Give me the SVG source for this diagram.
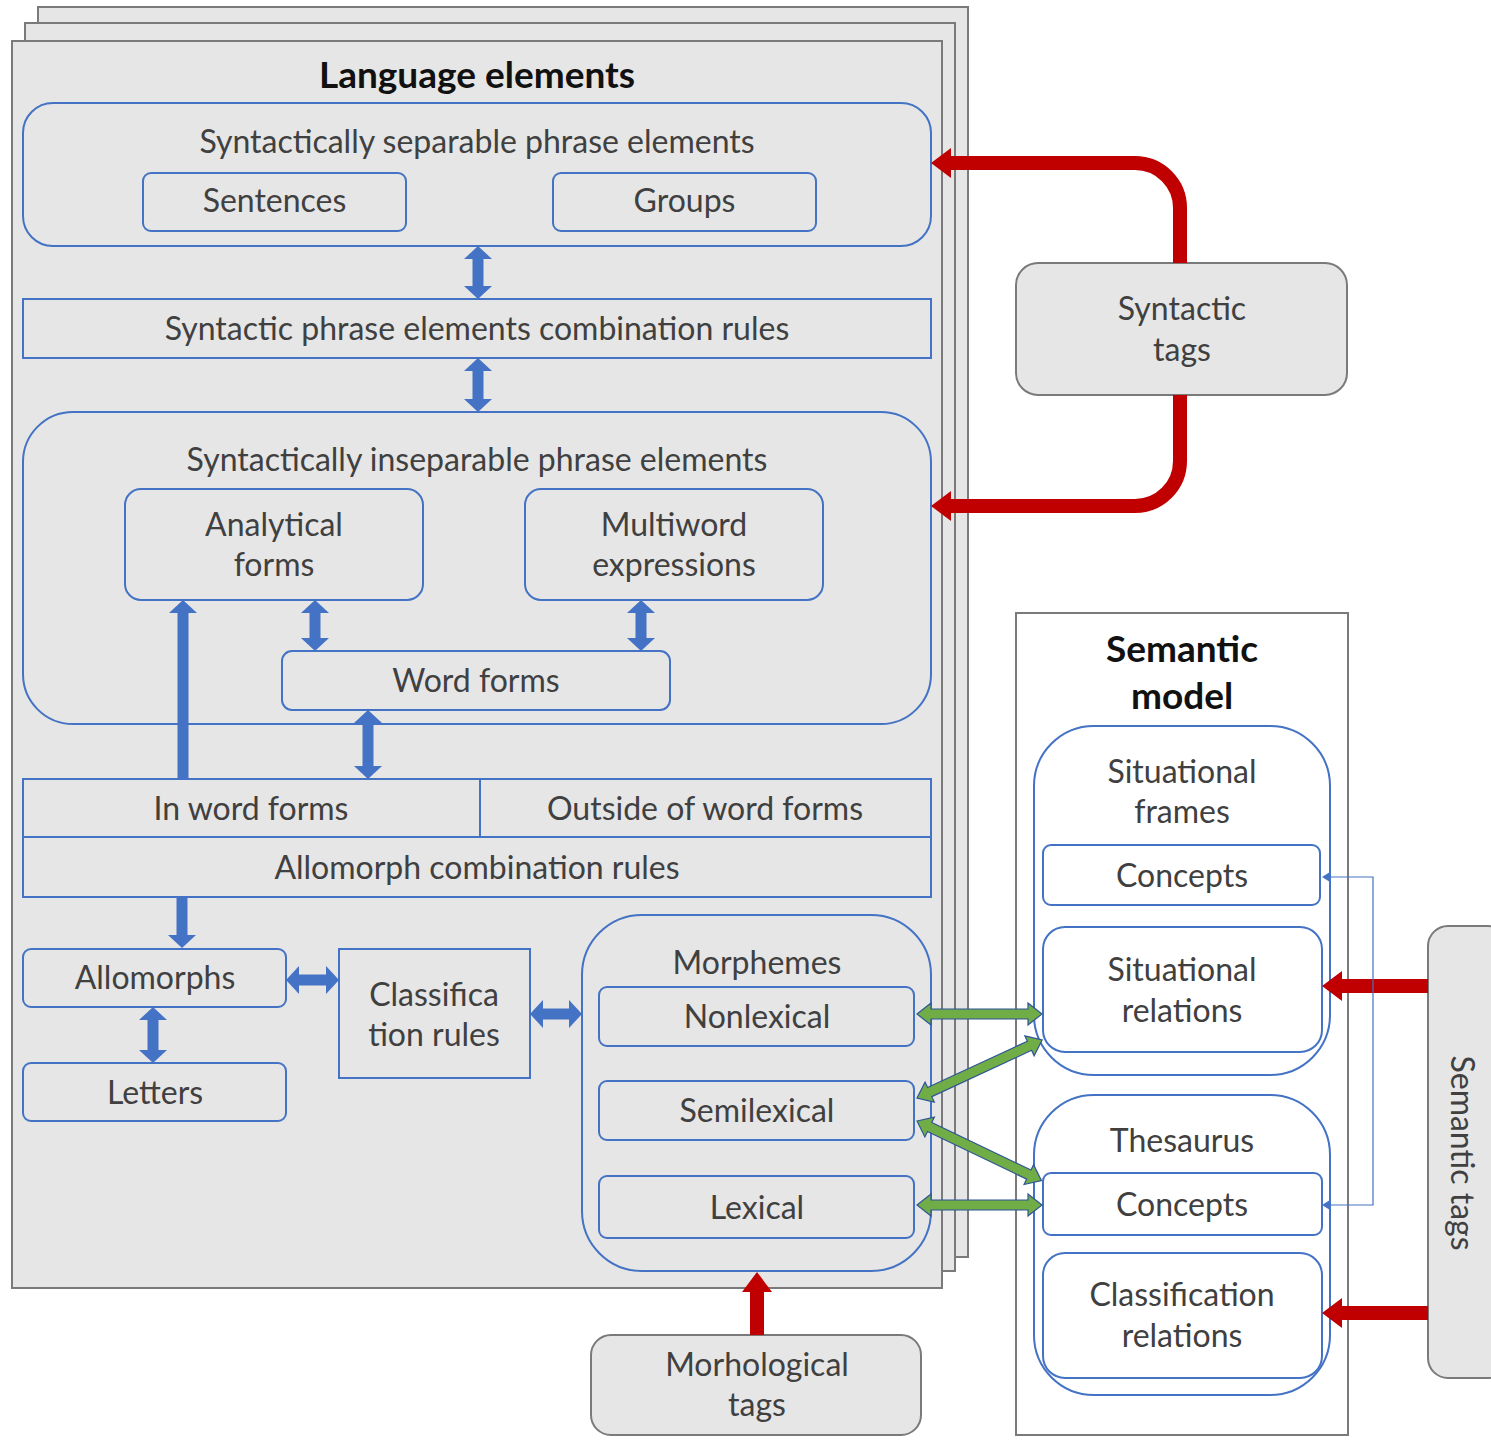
<svg xmlns="http://www.w3.org/2000/svg" width="1491" height="1440" viewBox="0 0 1491 1440">
<style>
.sheet{fill:#e6e6e6;stroke:#7a7a7a;stroke-width:2}
.bx{fill:none;stroke:#4472c4;stroke-width:2}
.wbx{fill:#fff;stroke:#4472c4;stroke-width:2}
.tag{fill:#e6e6e6;stroke:#7a7a7a;stroke-width:2}
.t{font-family:Lato,"Open Sans",sans-serif;font-size:32px;fill:#404040;text-anchor:middle}
.b{font-family:Lato,"Open Sans",sans-serif;font-size:37px;font-weight:bold;fill:#111;text-anchor:middle}
.ba{stroke:#4472c4;stroke-width:11;fill:none}
.ra{stroke:#c00000;stroke-width:14;fill:none}
.ga{fill:#70ad47;stroke:#2f5597;stroke-width:1.2}
</style>
<defs>
<marker id="mb" markerUnits="userSpaceOnUse" markerWidth="14" markerHeight="28" refX="0" refY="14" orient="auto-start-reverse" viewBox="0 0 14 28"><path d="M0,0 L13,14 L0,28 z" fill="#4472c4"/></marker>
<marker id="mr" markerUnits="userSpaceOnUse" markerWidth="21" markerHeight="30" refX="0" refY="15" orient="auto-start-reverse" viewBox="0 0 21 30"><path d="M0,0 L20,15 L0,30 z" fill="#c00000"/></marker>
<marker id="mt" markerUnits="userSpaceOnUse" markerWidth="9" markerHeight="10" refX="0" refY="5" orient="auto-start-reverse" viewBox="0 0 9 10"><path d="M0,0 L8,5 L0,10 z" fill="#4472c4"/></marker>
</defs>

<g id="language-elements">
<rect class="sheet" x="38" y="7" width="930" height="1250"/>
<rect class="sheet" x="25" y="23" width="930" height="1248"/>
<rect class="sheet" x="12" y="41" width="930" height="1247"/>
<text class="b" x="477" y="88">Language elements</text>
</g>

<g id="separable">
<rect class="bx" x="23" y="103" width="908" height="143" rx="30"/>
<text class="t" x="477" y="153">Syntactically separable phrase elements</text>
</g>
<g id="sentences"><rect class="bx" x="143" y="173" width="263" height="58" rx="8"/><text class="t" x="274.5" y="212">Sentences</text></g>
<g id="groups"><rect class="bx" x="553" y="173" width="263" height="58" rx="8"/><text class="t" x="684.5" y="212">Groups</text></g>
<g id="syntactic-rules"><rect class="bx" x="23" y="299" width="908" height="59"/><text class="t" x="477" y="340">Syntactic phrase elements combination rules</text></g>
<g id="inseparable">
<rect class="bx" x="23" y="412" width="908" height="312" rx="50"/>
<text class="t" x="477" y="471">Syntactically inseparable phrase elements</text>
</g>
<g id="analytical"><rect class="bx" x="125" y="489" width="298" height="111" rx="16"/><text class="t" x="274" y="536">Analytical</text><text class="t" x="274" y="576">forms</text></g>
<g id="multiword"><rect class="bx" x="525" y="489" width="298" height="111" rx="16"/><text class="t" x="674" y="536">Multiword</text><text class="t" x="674" y="576">expressions</text></g>
<g id="word-forms"><rect class="bx" x="282" y="651" width="388" height="59" rx="10"/><text class="t" x="476" y="692">Word forms</text></g>
<g id="allomorph-rules">
<rect class="bx" x="23" y="779" width="908" height="118"/>
<line class="bx" x1="23" y1="837" x2="931" y2="837"/>
<line class="bx" x1="480" y1="779" x2="480" y2="837"/>
<text class="t" x="251" y="820">In word forms</text>
<text class="t" x="705" y="820">Outside of word forms</text>
<text class="t" x="477" y="879">Allomorph combination rules</text>
</g>
<g id="allomorphs"><rect class="bx" x="23" y="949" width="263" height="58" rx="8"/><text class="t" x="155" y="989">Allomorphs</text></g>
<g id="letters"><rect class="bx" x="23" y="1063" width="263" height="58" rx="8"/><text class="t" x="155" y="1104">Letters</text></g>
<g id="classification-rules"><rect class="bx" x="339" y="949" width="191" height="129"/><text class="t" x="434" y="1006">Classifica</text><text class="t" x="434" y="1046">tion rules</text></g>
<g id="morphemes">
<rect class="bx" x="582" y="915" width="349" height="356" rx="60"/>
<text class="t" x="757" y="974">Morphemes</text>
</g>
<g id="nonlexical"><rect class="bx" x="599" y="987" width="315" height="59" rx="8"/><text class="t" x="757" y="1028">Nonlexical</text></g>
<g id="semilexical"><rect class="bx" x="599" y="1081" width="315" height="59" rx="8"/><text class="t" x="757" y="1122">Semilexical</text></g>
<g id="lexical"><rect class="bx" x="599" y="1176" width="315" height="62" rx="8"/><text class="t" x="757" y="1219">Lexical</text></g>

<g id="syntactic-tags"><rect class="tag" x="1016" y="263" width="331" height="132" rx="22"/><text class="t" x="1182" y="320">Syntactic</text><text class="t" x="1182" y="361">tags</text></g>

<g id="semantic-model">
<rect x="1016" y="613" width="332" height="822" fill="#fff" stroke="#7a7a7a" stroke-width="2"/>
<text class="b" x="1182" y="662">Semantic</text>
<text class="b" x="1182" y="709">model</text>
</g>
<g id="situational-frames"><rect class="wbx" x="1034" y="726" width="296" height="349" rx="60"/><text class="t" x="1182" y="783">Situational</text><text class="t" x="1182" y="823">frames</text></g>
<g id="concepts-1"><rect class="wbx" x="1043" y="845" width="277" height="60" rx="8"/><text class="t" x="1182" y="887">Concepts</text></g>
<g id="situational-relations"><rect class="wbx" x="1043" y="927" width="279" height="125" rx="22"/><text class="t" x="1182" y="981">Situational</text><text class="t" x="1182" y="1022">relations</text></g>
<g id="thesaurus"><rect class="wbx" x="1034" y="1095" width="296" height="300" rx="60"/><text class="t" x="1182" y="1152">Thesaurus</text></g>
<g id="concepts-2"><rect class="wbx" x="1043" y="1173" width="279" height="62" rx="8"/><text class="t" x="1182" y="1216">Concepts</text></g>
<g id="classification-relations"><rect class="wbx" x="1043" y="1253" width="279" height="125" rx="22"/><text class="t" x="1182" y="1306">Classification</text><text class="t" x="1182" y="1347">relations</text></g>

<g id="semantic-tags"><rect class="tag" x="1428" y="926" width="80" height="452" rx="20"/><text class="t" transform="translate(1462,1153) rotate(90)" x="0" y="11">Semantic tags</text></g>

<g id="morphological-tags"><rect class="tag" x="591" y="1335" width="330" height="100" rx="20"/><text class="t" x="757" y="1376">Morhological</text><text class="t" x="757" y="1416">tags</text></g>

<g id="connectors">
<line class="ba" x1="478" y1="259" x2="478" y2="286" marker-start="url(#mb)" marker-end="url(#mb)"/>
<line class="ba" x1="478" y1="371" x2="478" y2="399" marker-start="url(#mb)" marker-end="url(#mb)"/>
<line class="ba" x1="315" y1="613" x2="315" y2="638" marker-start="url(#mb)" marker-end="url(#mb)"/>
<line class="ba" x1="641" y1="613" x2="641" y2="638" marker-start="url(#mb)" marker-end="url(#mb)"/>
<line class="ba" x1="368" y1="723" x2="368" y2="766" marker-start="url(#mb)" marker-end="url(#mb)"/>
<line class="ba" x1="183" y1="779" x2="183" y2="613" marker-end="url(#mb)"/>
<line class="ba" x1="182" y1="897" x2="182" y2="935" marker-end="url(#mb)"/>
<line class="ba" x1="153" y1="1020" x2="153" y2="1050" marker-start="url(#mb)" marker-end="url(#mb)"/>
<line class="ba" x1="299" y1="980" x2="326" y2="980" marker-start="url(#mb)" marker-end="url(#mb)"/>
<line class="ba" x1="543" y1="1014" x2="569" y2="1014" marker-start="url(#mb)" marker-end="url(#mb)"/>

<path class="ra" d="M1180,263 L1180,208 A45,45 0 0 0 1135,163 L951,163" marker-end="url(#mr)"/>
<path class="ra" d="M1180,395 L1180,461 A45,45 0 0 1 1135,506 L951,506" marker-end="url(#mr)"/>
<line class="ra" x1="757" y1="1335" x2="757" y2="1292" marker-end="url(#mr)"/>
<line class="ra" x1="1428" y1="986" x2="1342" y2="986" marker-end="url(#mr)"/>
<line class="ra" x1="1428" y1="1313" x2="1342" y2="1313" marker-end="url(#mr)"/>

<path d="M1330,877 H1373 V1205 H1330" fill="none" stroke="#4472c4" stroke-width="1.2" marker-start="url(#mt)" marker-end="url(#mt)"/>

<polygon class="ga" transform="translate(917,1014)" points="0,0 14,-11 14,-5 111,-5 111,-11 125,0 111,11 111,5 14,5 14,11"/>
<polygon class="ga" transform="translate(917,1098) rotate(-24.9)" points="0,0 14,-11 14,-5 124,-5 124,-11 138,0 124,11 124,5 14,5 14,11"/>
<polygon class="ga" transform="translate(917,1121) rotate(25.6)" points="0,0 14,-11 14,-5 124,-5 124,-11 138,0 124,11 124,5 14,5 14,11"/>
<polygon class="ga" transform="translate(917,1205)" points="0,0 14,-11 14,-5 111,-5 111,-11 125,0 111,11 111,5 14,5 14,11"/>
</g>
</svg>
